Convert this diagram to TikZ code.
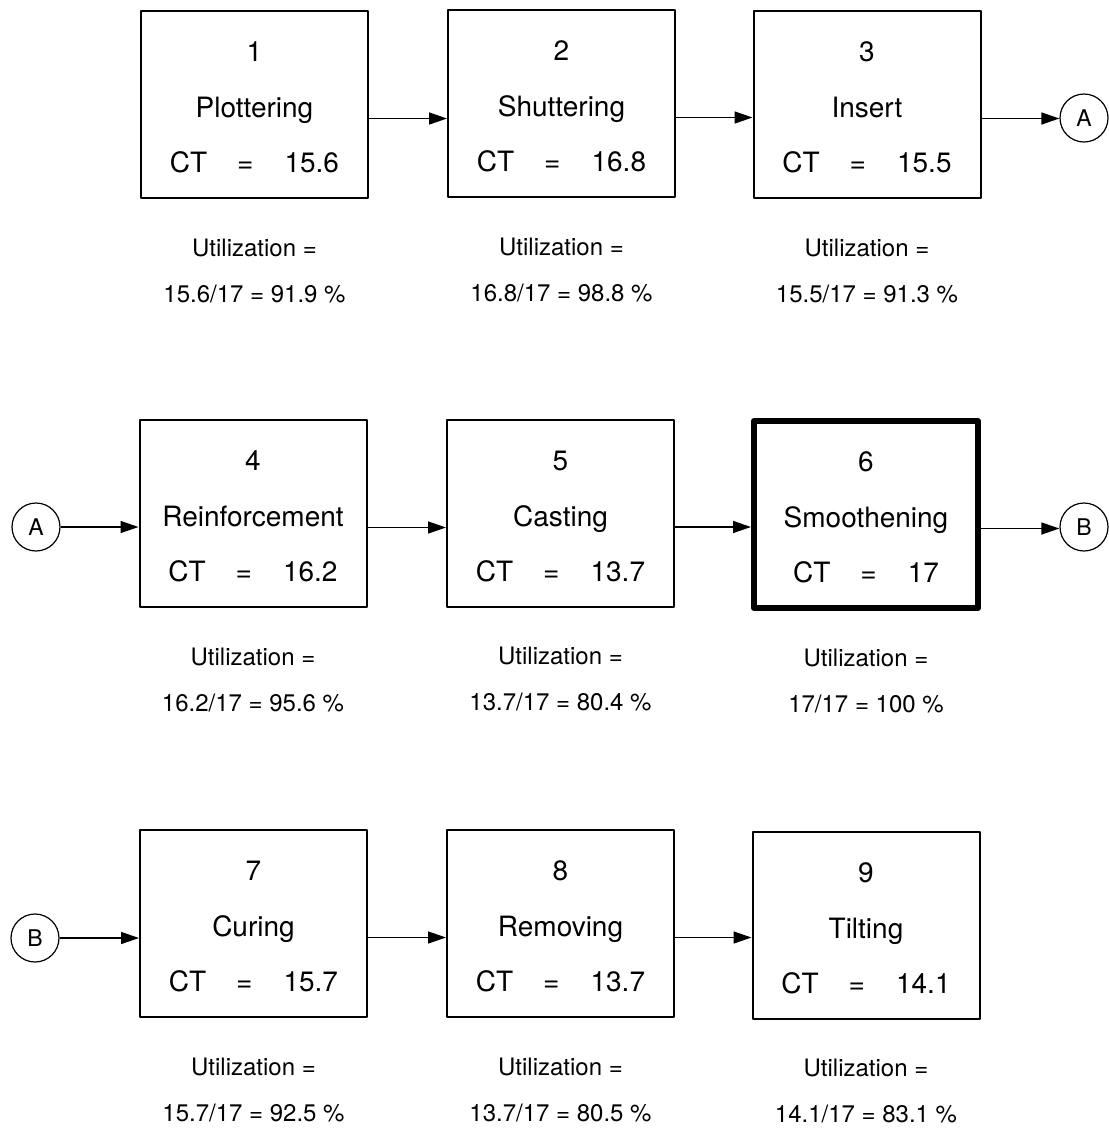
\documentclass[tikz,border=0pt]{standalone}
\usepackage{fontspec}
\setmainfont{TeX Gyre Heros}
\usetikzlibrary{arrows.meta}
\tikzset{
  box/.style={draw, line width=2pt, line join=round, minimum width=227pt, minimum height=187pt, inner sep=0pt},
  heavy/.style={line width=6pt, minimum width=224pt, minimum height=187pt},
  big/.style={inner sep=0pt, font=\fontsize{28}{30}\selectfont},
  small/.style={inner sep=0pt, font=\fontsize{24}{26}\selectfont},
  conn/.style={draw, line width=1.2pt, circle, minimum size=48pt, inner sep=0pt, font=\fontsize{23}{25}\selectfont},
  arr/.style={line width=1.5pt, -{Triangle[length=18pt,width=12pt]}},
}
\newcommand\stagebox[8]{%
  \node[box,#8] (#1) at (#2,#3) {};
  \node[big,anchor=base] (#1num) at ([yshift=43pt]#1.center) {#4};
  \node[big,anchor=base] (#1ttl) at ([yshift=-13pt]#1.center) {#5};
  \node[big,anchor=base] (#1ct) at ([yshift=-68pt]#1.center) {CT\hspace{30pt}=\hspace{31pt}#6};
  \node[small,anchor=base] (#1ua) at ([yshift=-151.5pt]#1.center) {Utilization =};
  \node[small,anchor=base] (#1ub) at ([yshift=-197.5pt]#1.center) {#7};
}
\begin{document}
\begin{tikzpicture}[x=1pt,y=-1pt]
\useasboundingbox (0,0) rectangle (1109,1128);
\stagebox{b1}{254.5}{104.5}{1}{Plottering}{15.6}{15.6/17 = 91.9 \%}{}
\stagebox{b2}{561.5}{103.5}{2}{Shuttering}{16.8}{16.8/17 = 98.8 \%}{}
\stagebox{b3}{867}{104.5}{3}{Insert}{15.5}{15.5/17 = 91.3 \%}{}
\stagebox{b4}{253}{513.5}{4}{Reinforcement}{16.2}{16.2/17 = 95.6 \%}{}
\stagebox{b5}{560.5}{513}{5}{Casting}{13.7}{13.7/17 = 80.4 \%}{}
\stagebox{b6}{866}{514.5}{6}{Smoothening}{17}{17/17 = 100 \%}{heavy}
\stagebox{b7}{253.5}{923.5}{7}{Curing}{15.7}{15.7/17 = 92.5 \%}{}
\stagebox{b8}{560.5}{923.5}{8}{Removing}{13.7}{13.7/17 = 80.5 \%}{}
\stagebox{b9}{866}{925}{9}{Tilting}{14.1}{14.1/17 = 83.1 \%}{}

\node[conn] (A1) at (1084,118) {A};
\node[conn] (A2) at (36,527) {A};
\node[conn] (B1) at (1084,527) {B};
\node[conn] (B2) at (35,938) {B};

\draw[arr] ([yshift=-14pt]b1.east) coordinate (s12) -- (s12 -| b2.west);
\draw[arr] ([yshift=-14pt]b2.east) coordinate (s23) -- (s23 -| b3.west);
\draw[arr] ([yshift=-14pt]b3.east) coordinate (s3a) -- (s3a -| A1.west);
\draw[arr] (A2.east) -- (A2.east -| b4.west);
\draw[arr] ([yshift=-14pt]b4.east) coordinate (s45) -- (s45 -| b5.west);
\draw[arr] ([yshift=-14pt]b5.east) coordinate (s56) -- (s56 -| b6.west);
\draw[arr] ([yshift=-14pt]b6.east) coordinate (s6b) -- (s6b -| B1.west);
\draw[arr] (B2.east) -- (B2.east -| b7.west);
\draw[arr] ([yshift=-14pt]b7.east) coordinate (s78) -- (s78 -| b8.west);
\draw[arr] ([yshift=-14pt]b8.east) coordinate (s89) -- (s89 -| b9.west);
\end{tikzpicture}
\end{document}
